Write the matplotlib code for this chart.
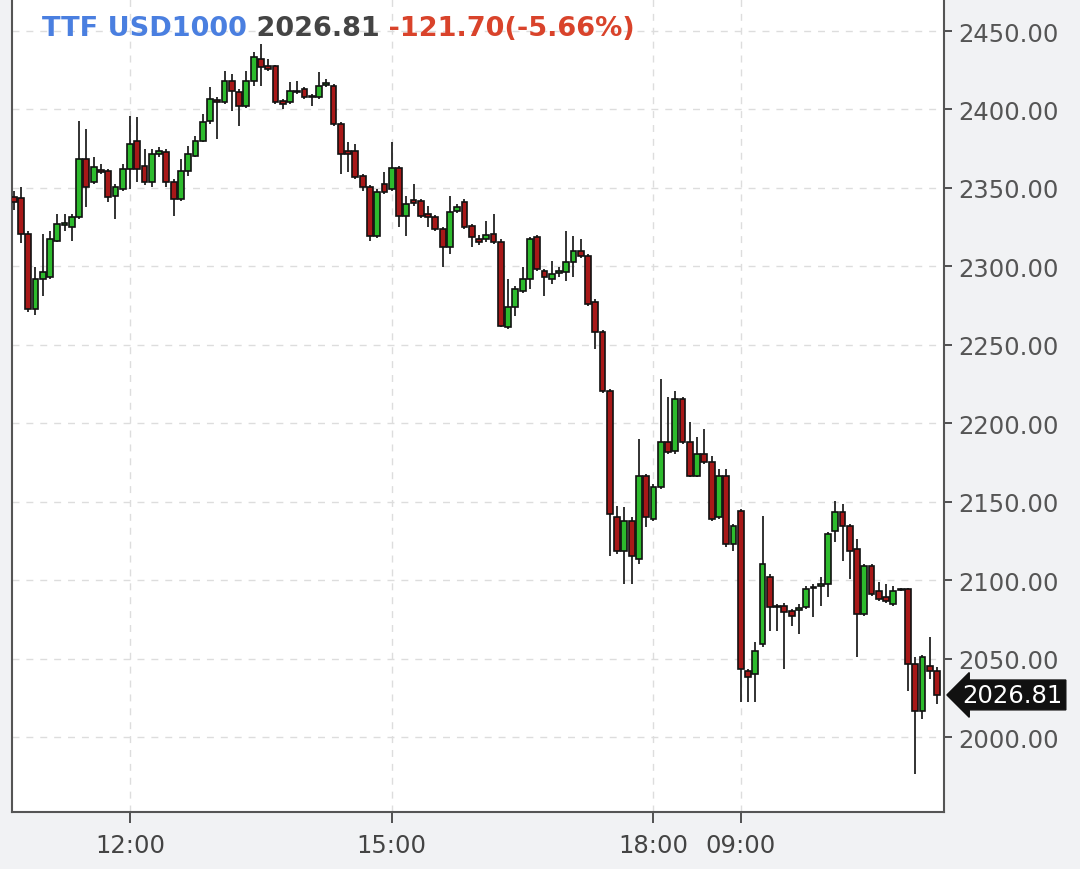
import numpy as np
import matplotlib.pyplot as plt
from matplotlib.transforms import blended_transform_factory

# 5-minute candles: index 0..99 = day 1 (10:40-18:55), 100..127 = day 2 (09:00-11:15)
opens = [2344.0, 2343.6, 2320.6, 2272.8, 2291.9, 2293.2, 2316.1, 2326.4, 2325.1, 2331.4,
         2368.4, 2353.8, 2361.4, 2360.8, 2344.8, 2349.3, 2362.0, 2379.9, 2364.0, 2353.8,
         2371.6, 2372.9, 2353.8, 2342.9, 2360.8, 2370.3, 2379.9, 2392.6, 2406.0, 2404.7,
         2418.1, 2411.1, 2402.2, 2418.1, 2432.2, 2427.7, 2427.7, 2405.4, 2404.7, 2411.1,
         2413.0, 2408.6, 2407.9, 2415.6, 2414.9, 2390.7, 2373.5, 2373.5, 2357.6, 2350.6,
         2319.3, 2352.5, 2349.3, 2362.7, 2332.1, 2342.3, 2341.6, 2333.4, 2331.4, 2323.8,
         2312.3, 2335.3, 2341.0, 2325.7, 2317.4, 2317.4, 2320.6, 2315.5, 2261.3, 2274.1,
         2284.3, 2291.9, 2318.7, 2297.0, 2291.9, 2295.7, 2296.4, 2302.8, 2309.8, 2306.6,
         2277.3, 2258.1, 2220.5, 2140.2, 2118.6, 2137.7, 2113.5, 2166.4, 2138.9, 2159.3,
         2188.0, 2182.3, 2215.4, 2188.0, 2166.4, 2180.4, 2175.3, 2140.2, 2166.4, 2123.0,
         2144.1, 2042.1, 2040.1, 2059.3, 2102.0, 2083.5, 2083.5, 2080.3, 2080.9, 2082.9,
         2095.0, 2096.3, 2097.5, 2131.3, 2143.4, 2134.5, 2119.8, 2078.4, 2109.0, 2093.0,
         2089.2, 2084.8, 2093.7, 2094.3, 2046.5, 2016.6, 2045.3, 2042.1]
closes = [2341.0, 2320.6, 2272.8, 2291.9, 2296.4, 2317.4, 2327.0, 2327.6, 2331.4, 2368.4,
          2350.6, 2363.3, 2360.1, 2344.2, 2350.6, 2362.0, 2378.0, 2362.0, 2353.8, 2371.6,
          2373.5, 2353.8, 2342.9, 2360.8, 2371.6, 2379.9, 2392.0, 2406.7, 2404.7, 2418.1,
          2411.8, 2402.2, 2418.1, 2433.4, 2427.1, 2425.8, 2404.7, 2403.5, 2411.8, 2411.8,
          2407.9, 2407.9, 2414.9, 2416.9, 2390.7, 2371.6, 2371.6, 2357.0, 2350.6, 2319.3,
          2347.4, 2347.4, 2362.7, 2332.1, 2339.7, 2340.4, 2332.1, 2331.4, 2323.8, 2312.3,
          2334.6, 2337.8, 2325.1, 2318.7, 2315.5, 2320.0, 2315.5, 2262.0, 2274.1, 2285.6,
          2291.9, 2317.4, 2298.3, 2293.2, 2295.1, 2297.0, 2302.8, 2309.8, 2306.6, 2276.0,
          2258.1, 2220.5, 2142.1, 2118.6, 2137.7, 2115.4, 2166.4, 2140.2, 2159.3, 2188.0,
          2181.7, 2215.4, 2188.0, 2166.4, 2180.4, 2175.3, 2139.0, 2166.4, 2123.0, 2134.5,
          2043.4, 2038.2, 2054.8, 2110.3, 2082.9, 2082.9, 2079.7, 2077.1, 2082.2, 2094.3,
          2095.6, 2097.5, 2129.4, 2143.4, 2134.5, 2118.6, 2078.4, 2109.0, 2091.1, 2087.9,
          2086.7, 2093.0, 2094.3, 2046.5, 2016.6, 2051.0, 2042.1, 2026.81]
highs = [2348.0, 2350.6, 2322.5, 2299.6, 2320.6, 2322.5, 2333.4, 2333.4, 2333.4, 2392.6,
         2387.5, 2369.7, 2365.2, 2362.0, 2352.5, 2365.2, 2395.8, 2395.2, 2374.8, 2374.8,
         2376.1, 2374.8, 2355.7, 2368.4, 2376.7, 2383.1, 2397.1, 2414.3, 2407.9, 2424.5,
         2422.6, 2413.0, 2424.5, 2436.6, 2441.7, 2432.2, 2428.3, 2406.7, 2417.5, 2418.1,
         2414.3, 2410.0, 2423.9, 2419.4, 2416.2, 2392.0, 2379.3, 2378.0, 2358.9, 2351.9,
         2349.3, 2360.1, 2379.3, 2364.0, 2344.8, 2352.5, 2342.9, 2338.5, 2332.7, 2325.1,
         2344.8, 2339.7, 2342.9, 2327.0, 2320.0, 2328.9, 2333.4, 2317.4, 2291.9, 2287.5,
         2299.6, 2318.7, 2320.0, 2298.3, 2303.4, 2299.6, 2322.5, 2319.3, 2317.4, 2307.9,
         2279.2, 2259.4, 2221.8, 2147.2, 2146.6, 2140.2, 2190.0, 2167.6, 2161.2, 2228.2,
         2216.7, 2220.5, 2216.7, 2200.8, 2191.2, 2196.3, 2179.1, 2170.8, 2170.8, 2135.8,
         2145.4, 2043.4, 2060.6, 2140.8, 2103.9, 2084.8, 2085.4, 2081.6, 2084.8, 2096.3,
         2097.5, 2102.0, 2130.6, 2150.4, 2148.5, 2135.8, 2126.2, 2110.3, 2110.3, 2098.8,
         2097.5, 2096.3, 2095.0, 2095.0, 2051.0, 2052.3, 2063.8, 2044.6]
lows = [2336.0, 2314.9, 2270.9, 2269.0, 2281.1, 2291.9, 2315.5, 2322.5, 2316.1, 2330.2,
        2337.8, 2352.5, 2358.9, 2341.0, 2330.2, 2348.0, 2349.3, 2353.8, 2351.9, 2350.6,
        2369.7, 2350.6, 2332.1, 2341.6, 2357.6, 2369.7, 2379.3, 2390.7, 2381.2, 2403.5,
        2399.0, 2389.4, 2400.9, 2414.9, 2414.9, 2424.5, 2403.5, 2400.3, 2403.5, 2409.8,
        2406.7, 2402.2, 2406.7, 2414.3, 2389.4, 2358.9, 2360.1, 2355.7, 2348.0, 2316.1,
        2318.1, 2346.1, 2348.0, 2325.1, 2319.3, 2338.5, 2330.8, 2325.1, 2322.5, 2299.6,
        2307.9, 2334.0, 2323.8, 2312.3, 2313.6, 2315.5, 2314.2, 2261.3, 2260.1, 2268.3,
        2283.0, 2285.6, 2297.0, 2281.1, 2288.7, 2293.2, 2290.6, 2293.2, 2305.4, 2274.7,
        2247.3, 2219.3, 2115.4, 2116.7, 2097.5, 2097.5, 2110.3, 2133.9, 2137.7, 2158.0,
        2180.4, 2180.4, 2186.8, 2165.7, 2165.7, 2174.0, 2137.7, 2139.0, 2121.1, 2118.6,
        2022.3, 2022.3, 2022.3, 2057.4, 2067.6, 2067.6, 2043.4, 2070.8, 2065.6, 2081.6,
        2076.5, 2083.5, 2089.2, 2124.3, 2112.2, 2100.7, 2051.0, 2077.1, 2089.8, 2086.7,
        2085.4, 2083.5, 2093.0, 2029.3, 1976.4, 2011.5, 2037.0, 2021.0]

# x-axis labels (candle index where each time falls)
time_ticks = [16, 52, 88, 100]
time_labels = ['12:00', '15:00', '18:00', '09:00']
price_ticks = [2000, 2050, 2100, 2150, 2200, 2250, 2300, 2350, 2400, 2450]

symbol = 'TTF USD1000'
last_price = 2026.81
change = -121.70
change_pct = -5.66

##########################################

fig = plt.figure(figsize=(10.8, 8.7), dpi=100, facecolor='#f1f2f4')
ax = fig.add_axes([12/1080, 57/870, 932/1080, 813/870])
ax.set_facecolor('white')

o = np.array(opens)
c = np.array(closes)
x = np.arange(len(o))
body_col = np.where(c >= o, '#2dbb2d', '#a81818')

# wicks then bodies
ax.vlines(x, lows, highs, color='#222222', lw=1.3, zorder=2)
ax.bar(x, np.abs(c - o), bottom=np.minimum(o, c), width=0.8,
       color=body_col, edgecolor='#111111', linewidth=1.2, zorder=3)

ax.set_xlim(-0.23, 127.96)
ax.set_ylim(1952.2, 2470.4)

ax.set_xticks(time_ticks)
ax.set_xticklabels(time_labels)
ax.set_yticks(price_ticks)
ax.set_yticklabels([f'{p:.2f}' for p in price_ticks])
ax.yaxis.tick_right()
ax.tick_params(axis='both', colors='#444444', labelsize=17.5, width=1.3)
ax.tick_params(axis='y', length=6, pad=4, labelcolor='#555555')
ax.tick_params(axis='x', length=8, pad=7, labelcolor='#444444')

ax.grid(True, ls=(0, (5, 5)), color='#dddddd', lw=1)
ax.set_axisbelow(True)

for side in ['left', 'right', 'bottom']:
    ax.spines[side].set_color('#555555')
    ax.spines[side].set_linewidth(1.5)
ax.spines['top'].set_visible(False)

# header text
t1 = ax.text(0.032, 0.964, symbol, transform=ax.transAxes, color='#4a7fe0',
             fontsize=19.5, fontweight='bold', va='center', ha='left')
t2 = ax.annotate(f' {last_price:.2f}', xy=(1, 0), xycoords=t1, va='bottom',
                 color='#444444', fontsize=19.5, fontweight='bold')
ax.annotate(f' {change:.2f}({change_pct:.2f}%)', xy=(1, 0), xycoords=t2, va='bottom',
            color='#d9432b', fontsize=19.5, fontweight='bold')

# last price tag
trans = blended_transform_factory(ax.transAxes, ax.transData)
ax.text(1.02, last_price, f'{last_price:.2f}', transform=trans, color='white',
        fontsize=17.5, va='center', ha='left', clip_on=False,
        bbox=dict(boxstyle='larrow,pad=0.12', fc='#111111', ec='#111111'))

fig.savefig('out.png', dpi=100, facecolor=fig.get_facecolor())
